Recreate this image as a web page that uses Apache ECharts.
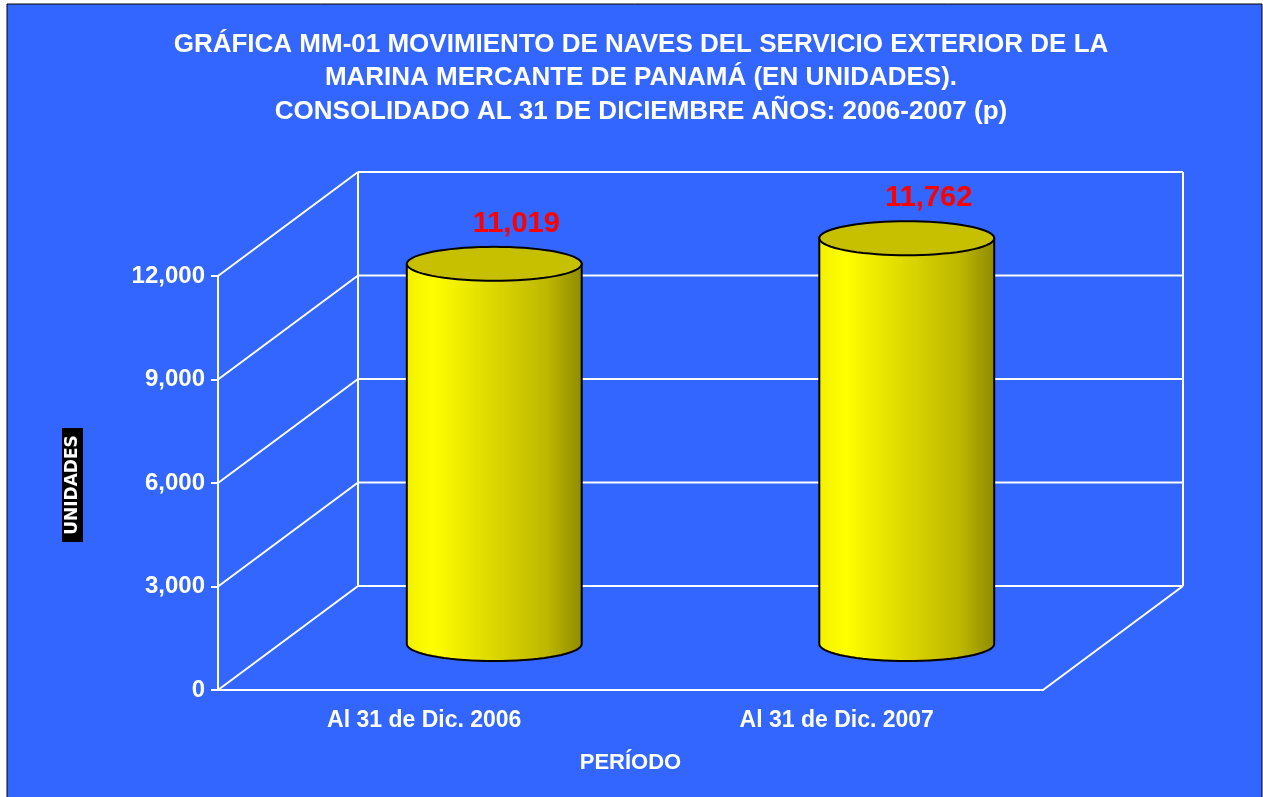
<!DOCTYPE html>
<html>
<head>
<meta charset="utf-8">
<script src="https://cdn.jsdelivr.net/npm/echarts@6/dist/echarts.min.js"></script>
<style>
  html, body { margin: 0; padding: 0; background: #fff; }
  #mybox { width: 1263px; height: 797px; }
</style>
</head>
<body>
<div id="mybox"></div>
<script>
// datos de la grafica
var categorias = ['Al 31 de Dic. 2006', 'Al 31 de Dic. 2007'];
var unidades = [11019, 11762];
var ticks = [0, 3000, 6000, 9000, 12000];

// profundidad del marco 3D (pixeles)
var DX = 140, DY = -104;

function miles(v) {
    return String(v).replace(/\B(?=(\d{3})+(?!\d))/g, ',');
}

function elipse(cx, cy, rx, ry) {
    var pts = [];
    for (var i = 0; i < 72; i++) {
        var a = i / 72 * Math.PI * 2;
        pts.push([cx + rx * Math.cos(a), cy + ry * Math.sin(a)]);
    }
    return pts;
}

var linea = { stroke: '#fff', lineWidth: 2 };

// marco 3D: paredes y piso
function renderMarco(params, api) {
    var v = api.value(0);
    var p0 = api.coord([0, v]);
    var half = api.size([1, 0])[0] / 2;
    var xL = p0[0] - half;
    var xR = api.coord([categorias.length - 1, v])[0] + half;
    var y = p0[1];
    var kids = [
        { type: 'line', shape: { x1: xL, y1: y, x2: xL + DX, y2: y + DY }, style: linea },
        { type: 'line', shape: { x1: xL + DX, y1: y + DY, x2: xR + DX, y2: y + DY }, style: linea }
    ];
    if (v === 0) {
        var yTop = api.coord([0, ticks[ticks.length - 1]])[1];
        kids.push({ type: 'line', shape: { x1: xR, y1: y, x2: xR + DX, y2: y + DY }, style: linea });
        kids.push({ type: 'line', shape: { x1: xL + DX, y1: y + DY, x2: xL + DX, y2: yTop + DY }, style: linea });
        kids.push({ type: 'line', shape: { x1: xR + DX, y1: y + DY, x2: xR + DX, y2: yTop + DY }, style: linea });
    }
    return { type: 'group', children: kids };
}

// cilindros
function renderCilindro(params, api) {
    var idx = api.value(0);
    var top = api.coord([idx, api.value(1)]);
    var base = api.coord([idx, 0]);
    var w = api.size([1, 0])[0] * 0.424;
    var cx = top[0] + DX / 2;
    var ty = top[1] + DY / 2 + 6;
    var by = base[1] + DY / 2 + 6;
    var rx = w / 2, ry = 17;
    var cuerpo = [[cx - rx, ty]];
    for (var i = 0; i <= 36; i++) {
        var a = Math.PI - i / 36 * Math.PI;
        cuerpo.push([cx + rx * Math.cos(a), by + ry * Math.sin(a)]);
    }
    cuerpo.push([cx + rx, ty]);
    return {
        type: 'group',
        children: [
            {
                type: 'polygon',
                shape: { points: cuerpo },
                style: {
                    fill: new echarts.graphic.LinearGradient(0, 0, 1, 0, [
                        { offset: 0, color: '#F2F000' },
                        { offset: 0.15, color: '#FFFF00' },
                        { offset: 0.5, color: '#DCD700' },
                        { offset: 0.8, color: '#BDB700' },
                        { offset: 1, color: '#8E8A00' }
                    ]),
                    stroke: '#000', lineWidth: 2
                }
            },
            {
                type: 'polygon',
                shape: { points: elipse(cx, ty, rx, ry) },
                style: { fill: '#C6C000', stroke: '#000', lineWidth: 2 }
            },
            {
                type: 'text',
                style: {
                    x: cx + 22, y: ty - 40,
                    text: miles(api.value(1)),
                    fill: '#FF0000',
                    font: 'bold 29px "Liberation Sans", Arial, sans-serif',
                    align: 'center', verticalAlign: 'middle'
                }
            }
        ]
    };
}

var mycharts = echarts.init(document.getElementById('mybox'));

var optionObj = {
    backgroundColor: '#fff',
    animation: false,
    textStyle: { fontFamily: '"Liberation Sans", Arial, sans-serif' },
    graphic: [
        {
            type: 'rect', z: -10, silent: true,
            shape: { x: 7, y: 4, width: 1255, height: 794 },
            style: { fill: '#3366FF', stroke: '#000', lineWidth: 1 }
        },
        {
            type: 'group', left: 62, top: 428,
            children: [
                { type: 'rect', shape: { x: 0, y: 0, width: 21, height: 114 }, style: { fill: '#000' } },
                {
                    type: 'text', x: 11, y: 57, rotation: Math.PI / 2,
                    style: {
                        text: 'UNIDADES', fill: '#fff',
                        font: 'bold 17px "DejaVu Sans", sans-serif',
                        align: 'center', verticalAlign: 'middle'
                    }
                }
            ]
        }
    ],
    title: {
        text: 'GRÁFICA MM-01 MOVIMIENTO DE NAVES DEL SERVICIO EXTERIOR DE LA\nMARINA MERCANTE DE PANAMÁ (EN UNIDADES).\nCONSOLIDADO AL 31 DE DICIEMBRE AÑOS: 2006-2007 (p)',
        left: 636, top: 23, textAlign: 'center',
        textStyle: {
            color: '#fff', fontSize: 26, fontWeight: 'bold', lineHeight: 33.5,
            fontFamily: '"Liberation Sans", Arial, sans-serif'
        }
    },
    grid: { left: 218, right: 220, top: 276, bottom: 107, containLabel: false },
    xAxis: {
        type: 'category',
        data: categorias,
        name: 'PERÍODO',
        nameLocation: 'middle',
        nameGap: 62,
        nameTextStyle: { color: '#fff', fontSize: 22, fontWeight: 'bold' },
        axisLine: { lineStyle: { color: '#fff', width: 2 } },
        axisTick: { length: 10, lineStyle: { color: '#fff', width: 2 } },
        axisLabel: { color: '#fff', fontSize: 23, fontWeight: 'bold', margin: 19 },
        splitLine: { show: false }
    },
    yAxis: {
        type: 'value',
        min: 0, max: 12000, interval: 3000,
        axisLine: { show: true, lineStyle: { color: '#fff', width: 2 } },
        axisTick: { show: true, length: 7, lineStyle: { color: '#fff', width: 2 } },
        axisLabel: { color: '#fff', fontSize: 24, fontWeight: 'bold', margin: 13, formatter: miles },
        splitLine: { show: false }
    },
    series: [
        {
            name: 'marco',
            type: 'custom',
            renderItem: renderMarco,
            data: ticks.map(function (t) { return [t]; }),
            encode: { y: 0 },
            silent: true,
            z: 1
        },
        {
            name: 'unidades',
            type: 'custom',
            renderItem: renderCilindro,
            data: unidades.map(function (v, i) { return [i, v]; }),
            encode: { x: 0, y: 1 },
            z: 3
        }
    ]
};

mycharts.setOption(optionObj);
</script>
</body>
</html>
